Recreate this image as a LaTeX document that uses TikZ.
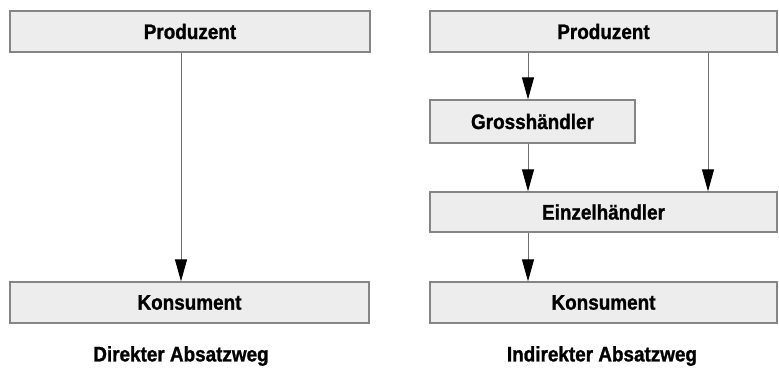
\documentclass[tikz,border=0pt]{standalone}
\usepackage{fontspec}
\setmainfont{Liberation Sans}
\newfontfamily\labelfont{Liberation Sans Bold}[FakeStretch=0.9, FakeBold=1.2]
\usetikzlibrary{arrows.meta}
\definecolor{boxfill}{HTML}{EDEDED}
\definecolor{boxline}{HTML}{858585}
\definecolor{linkline}{HTML}{6E6E6E}
\tikzset{
  box/.style={draw=boxline, fill=boxfill, line width=1.3pt, rectangle,
    inner sep=0pt, font=\labelfont\fontsize{21}{24}\selectfont},
  link/.style={draw=linkline, line width=1pt,
    -{Triangle[length=22pt,width=12pt,color=black]}},
  caption/.style={font=\labelfont\fontsize{21}{24}\selectfont}
}
\begin{document}
\begin{tikzpicture}[x=1pt,y=-1pt]
  \useasboundingbox (0,0) rectangle (779,369);
  % direct channel
  \node[box, minimum width=360pt, minimum height=41pt] (p1) at (190,31.5) {Produzent};
  \node[box, minimum width=359pt, minimum height=41pt] (k1) at (189.5,302.5) {Konsument};
  \node[caption] (c1) at (181,356) {Direkter Absatzweg};
  \coordinate (x1) at (181,0);
  \draw[link] (p1.south -| x1) -- (k1.north -| x1);
  % indirect channel
  \node[box, minimum width=347pt, minimum height=41pt] (p2) at (603.5,31.5) {Produzent};
  \node[box, minimum width=205pt, minimum height=43pt] (g2) at (532.5,121.5) {Grosshändler};
  \node[box, minimum width=347pt, minimum height=40pt] (e2) at (603.5,212) {Einzelhändler};
  \node[box, minimum width=347pt, minimum height=41pt] (k2) at (603.5,302.5) {Konsument};
  \node[caption] (c2) at (602,356) {Indirekter Absatzweg};
  \coordinate (xa) at (528,0);
  \coordinate (xb) at (708,0);
  \draw[link] (p2.south -| xa) -- (g2.north -| xa);
  \draw[link] (g2.south -| xa) -- (e2.north -| xa);
  \draw[link] (e2.south -| xa) -- (k2.north -| xa);
  \draw[link] (p2.south -| xb) -- (e2.north -| xb);
\end{tikzpicture}
\end{document}
